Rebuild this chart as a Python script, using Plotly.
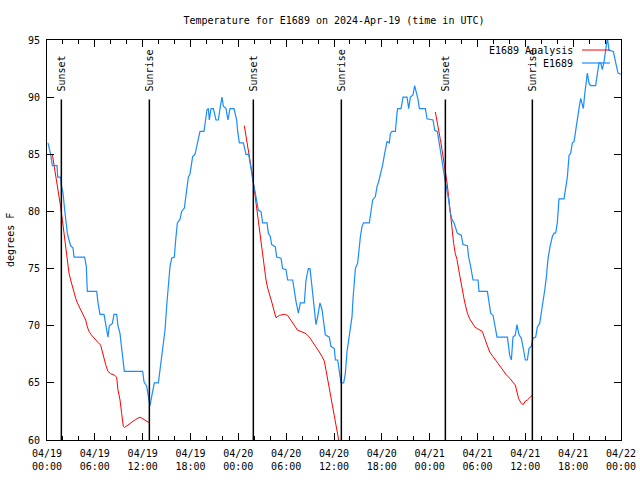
import plotly.graph_objects as go

# ---------------- data ----------------
# hours since 2024-04-19 00:00 UTC
obs_hours = [0.12, 0.46, 0.67, 1.26, 1.34, 1.71, 1.80, 2.01, 2.22, 2.38, 2.55, 2.76, 2.97, 3.26, 3.39,
             4.72, 4.93, 5.06, 6.23, 6.40, 6.65, 7.15, 7.36, 7.65, 7.82, 8.20, 8.40, 8.74, 8.90, 9.16,
             9.32, 9.49, 9.70, 12.00, 12.17, 12.50, 12.71, 12.92, 13.13, 13.34, 13.46, 13.97, 14.17,
             14.38, 14.59, 14.80, 15.01, 15.22, 15.43, 15.64, 15.97, 16.14, 16.35, 16.68, 16.89, 17.23,
             17.44, 17.73, 17.94, 18.27, 18.57, 18.77, 18.98, 19.19, 19.69, 19.90, 20.07, 20.24, 20.36,
             20.57, 20.87, 21.20, 21.49, 21.70, 21.95, 22.12, 22.45, 22.70, 22.95, 23.46, 23.79,
             23.92, 24.13, 24.63, 24.96, 25.30, 25.51, 25.71, 25.88, 26.13, 26.34, 26.51, 26.84, 27.05,
             27.60, 27.76, 28.01, 28.18, 28.64, 28.81, 29.35, 29.56, 29.98, 30.19, 30.82, 31.03, 31.24,
             31.53, 31.78, 32.28, 32.49, 32.78, 32.99, 33.24, 33.45, 33.74, 33.95, 34.24, 34.50, 34.70,
             34.91, 35.41, 35.62, 36.04, 36.17, 36.46, 36.67, 36.88, 37.21, 37.42, 37.63, 37.84, 38.05,
             38.26, 38.38, 38.55, 38.68, 38.97, 39.10, 39.31, 39.52, 39.72, 40.43, 40.68, 40.85, 41.19,
             41.40, 41.60, 41.81, 42.11, 42.31, 42.52, 42.65, 42.94, 43.07, 43.28, 43.70, 43.90, 43.99,
             44.41, 44.66, 45.16, 45.37, 45.58, 45.91, 46.12, 46.33, 46.54, 46.71, 47.46, 47.67, 48.22,
             48.42, 48.63, 48.96, 49.17, 49.38, 49.59, 49.80, 49.97, 50.18, 50.38, 50.55, 50.80, 51.05,
             51.47, 51.97, 52.18, 52.73, 52.89, 53.14, 53.44, 54.07, 54.19, 55.24, 55.45, 55.65, 55.95,
             56.16, 56.45, 57.75, 58.04, 58.25, 58.45, 58.75, 58.95, 59.21, 59.50, 59.75, 60.00, 60.25,
             60.46, 60.75, 60.96, 61.30, 61.51, 61.80, 62.01, 62.22, 62.43, 62.64, 62.84, 63.09, 63.39,
             63.60, 63.80, 64.01, 64.22, 64.85, 65.06, 65.27, 65.48, 65.69, 65.90, 66.11, 66.32, 66.52,
             66.73, 66.94, 67.15, 67.28, 67.45, 67.65, 67.78, 67.99, 68.20, 68.82, 69.03, 69.24, 69.45,
             69.66, 69.87, 70.08, 70.29, 70.50, 71.04, 71.34, 71.63, 72.00]
obs_temps = [86, 85, 84, 84, 83, 83, 82.3, 81.6, 80.1, 78.8, 78.1, 77.5, 77, 76.8, 76,
             76, 75.2, 73, 73, 72, 71, 71, 70, 69, 70, 70.2, 71, 71, 70, 69.3,
             68.3, 67, 66, 66, 65.1, 64.7, 63.8, 63, 63.8, 64.7, 65, 65, 66.1,
             66.9, 68.5, 69.6, 71.7, 73.6, 75.2, 75.9, 76, 77.5, 79, 79.3, 80, 80.3,
             81.6, 83, 83.3, 84.8, 85, 85.7, 86.5, 87, 87, 88, 88.9, 89, 88,
             89, 89, 88, 88, 89, 90, 89.2, 89, 88, 89, 89, 88,
             87, 86, 86, 85, 85, 84, 83, 82.5, 81.6, 80.7, 80.1, 80, 79,
             79, 78.1, 77.8, 77.1, 76.9, 76, 75.9, 75, 74.9, 74, 74, 73, 72.1,
             71.1, 72, 72, 74, 75, 75, 73.4, 72, 70.1, 70.8, 72, 71.4, 70.2,
             69.2, 69, 68.2, 68, 67, 67, 66, 65, 65, 65.8, 67.7, 68.8, 69.9,
             70.8, 72.3, 73.6, 75, 75.5, 76.6, 77.8, 78.7, 79, 79, 80.1, 81, 81.3,
             82.2, 82.6, 83.2, 84.1, 84.9, 85.8, 86.1, 86, 86.8, 87, 87, 88.6, 89,
             89, 90, 90, 89, 90, 90.2, 91, 90.5, 89.8, 89, 89, 88.1, 88,
             88, 87.1, 87, 86.1, 85, 84.2, 83.3, 82.6, 81.9, 81, 80, 79.3, 79,
             78.1, 77.9, 77.1, 77, 76, 75.2, 74, 74, 73, 73, 72.1, 71.1, 70.9,
             70.1, 69, 69, 67.4, 67, 69, 69.2, 70.1, 69.2, 68.9, 68, 67, 67,
             68, 68.2, 68.9, 69, 69.9, 70.2, 71.1, 72, 73.1, 74.3, 75.8, 76.9, 77.8,
             78.1, 78.1, 79, 81.1, 81.1, 82.2, 83, 84.9, 85.1, 86, 86.1, 87.1, 88.3,
             89, 89.9, 89.2, 89, 90.3, 91.8, 92.1, 91.2, 91, 91, 92.1, 93, 93,
             92.4, 93.1, 94.1, 95.2, 94.1, 94, 93, 92.1, 92]

# analysis: three overnight segments (None separates them)
ana_hours = [0.67, 0.88, 1.09, 1.30, 1.51, 1.71, 1.92, 2.13, 2.34, 2.55, 2.76, 2.97, 3.18, 3.39, 3.60,
             3.81, 4.22, 4.56, 4.85, 5.06, 5.27, 5.56, 5.90, 6.31, 6.73, 6.94, 7.15, 7.36, 7.65, 7.99,
             8.40, 8.74, 8.90, 9.16, 9.37, 9.57, 9.74, 10.49, 11.12, 11.67, 12.08, 12.84, None,
             24.75, 24.96, 25.17, 25.38, 25.59, 25.80, 26.01, 26.22, 26.43, 26.63, 26.84, 27.05, 27.26,
             27.47, 27.68, 27.89, 28.22, 28.52, 28.73, 29.14, 29.77, 30.19, 30.61, 31.03, 31.44, 31.86,
             32.49, 32.91, 33.32, 33.74, 34.16, 34.50, 34.79, 35.00, 35.21, 35.41, 35.62, 35.83, 36.04,
             36.30, 36.85, None,
             48.71, 48.92, 49.13, 49.34, 49.55, 49.76, 49.97, 50.18, 50.38, 50.59, 50.80, 51.01, 51.22,
             51.43, 51.64, 51.85, 52.06, 52.27, 52.48, 52.73, 53.02, 53.31, 53.65, 54.07, 54.61, 54.90,
             55.19, 55.53, 55.95, 56.37, 56.78, 57.20, 57.62, 58.04, 58.45, 58.75, 58.95, 59.17, 59.50,
             59.75, 60.00, 60.25, 60.84]
ana_temps = [85, 84.1, 83.3, 82.5, 81.6, 80.4, 79.3, 78.1, 76.9, 75.8, 74.6, 74, 73.4, 72.8, 72.4,
             72, 71.4, 70.9, 70.5, 69.9, 69.5, 69.2, 68.9, 68.6, 68.3, 67.7, 67, 66.6, 66, 65.8,
             65.7, 65.5, 64.4, 63.5, 62.3, 61.2, 61.1, 61.5, 61.8, 62, 61.8, 61.5, None,
             87.5, 86.5, 85.7, 84.8, 83.9, 83, 81.9, 80.7, 79.5, 78.4, 77.2, 76, 74.9,
             74, 73.3, 72.7, 72, 71.2, 70.7, 70.9, 71, 70.9, 70.5, 70.1, 69.6, 69.5,
             69.3, 69, 68.6, 68.2, 67.7, 67.3, 66.9, 66.1, 65.3, 64.5, 63.8, 63.1, 62.2,
             61.1, 59.0, None,
             88.7, 88, 87.1, 86.3, 85.4, 84.5, 83.5, 82.5, 81.3, 79.8, 78.4, 77.2, 76.3,
             75.8, 74.9, 74, 73.3, 72.5, 71.8, 71.1, 70.6, 70.3, 69.9, 69.7, 69.5, 68.9,
             68.3, 67.7, 67.3, 66.9, 66.4, 66, 65.7, 65.4, 65.1, 64.8, 64.2, 63.6, 63.2,
             63.1, 63.4, 63.5, 63.9]

sun_hours = [1.80, 12.84, 25.88, 36.92, 49.97, 60.88]
sun_labels = ["Sunset", "Sunrise", "Sunset", "Sunrise", "Sunset", "Sunrise"]

tick_hours = [0, 6, 12, 18, 24, 30, 36, 42, 48, 54, 60, 66, 72]
tick_labels = ["04/19<br>00:00", "04/19<br>06:00", "04/19<br>12:00", "04/19<br>18:00",
               "04/20<br>00:00", "04/20<br>06:00", "04/20<br>12:00", "04/20<br>18:00",
               "04/21<br>00:00", "04/21<br>06:00", "04/21<br>12:00", "04/21<br>18:00",
               "04/22<br>00:00"]
y_ticks = [60, 65, 70, 75, 80, 85, 90, 95]

series_names = ["E1689 Analysis", "E1689"]
series_colors = ["#ff0000", "#1a8cff"]
series_widths = [1.0, 1.2]

# ---------------- figure ----------------
FONT = "DejaVu Sans Mono"
fig = go.Figure()

fig.add_trace(go.Scatter(x=ana_hours, y=ana_temps, mode="lines", connectgaps=False,
                         line=dict(color=series_colors[0], width=series_widths[0]), showlegend=False))
fig.add_trace(go.Scatter(x=obs_hours, y=obs_temps, mode="lines",
                         line=dict(color=series_colors[1], width=series_widths[1]), showlegend=False))

for t, lab in zip(sun_hours, sun_labels):
    fig.add_shape(type="line", xref="x", yref="y", x0=t, x1=t, y0=89.8, y1=60,
                  line=dict(color="black", width=1.5))
    fig.add_annotation(x=t, y=90, xref="x", yref="y", text=lab, textangle=-90,
                       showarrow=False, xanchor="center", yanchor="bottom", yshift=4,
                       font=dict(family=FONT, size=10, color="black"))

# legend (gnuplot style: text then sample on the right)
leg_y = [0.975, 0.9425]
for name, col, w, yy in zip(series_names, series_colors, series_widths, leg_y):
    fig.add_annotation(x=0.9199, y=yy, xref="paper", yref="paper", text=name,
                       showarrow=False, xanchor="right", yanchor="middle",
                       font=dict(family=FONT, size=10, color="black"))
    fig.add_shape(type="line", xref="paper", yref="paper", x0=0.9321, x1=0.9808,
                  y0=yy, y1=yy, line=dict(color=col, width=w))

# y-axis title
fig.add_annotation(x=-0.0645, y=0.5, xref="paper", yref="paper", text="degrees F",
                   textangle=-90, showarrow=False, xanchor="center", yanchor="middle",
                   font=dict(family=FONT, size=10, color="black"))

fig.update_layout(
    width=640, height=480,
    margin=dict(l=47, r=19, t=40, b=40, pad=0),
    paper_bgcolor="white", plot_bgcolor="white",
    font=dict(family=FONT, size=10, color="black"),
    title=dict(text="Temperature for E1689 on 2024-Apr-19 (time in UTC)",
               x=0.5, xref="paper", xanchor="center", y=1 - 20 / 480, yref="container",
               yanchor="middle", font=dict(family=FONT, size=10, color="black")),
    showlegend=False,
)
fig.update_xaxes(range=[0, 72], tickmode="array", tickvals=tick_hours, ticktext=tick_labels,
                 ticks="inside", ticklen=7, tickwidth=1, tickcolor="black",
                 minor=dict(tickmode="linear", tick0=0, dtick=2, ticks="inside", ticklen=4,
                            tickcolor="black", tickwidth=1, showgrid=False),
                 showline=True, linecolor="black", linewidth=1, mirror="allticks",
                 showgrid=False, zeroline=False, automargin=False, ticklabelstandoff=4,
                 tickfont=dict(family=FONT, size=10, color="black"))
fig.update_yaxes(range=[60, 95], tickmode="array", tickvals=y_ticks,
                 ticks="inside", ticklen=7, tickwidth=1, tickcolor="black",
                 showline=True, linecolor="black", linewidth=1, mirror="allticks",
                 showgrid=False, zeroline=False, automargin=False, ticklabelstandoff=4,
                 tickfont=dict(family=FONT, size=10, color="black"))

fig.write_html("out.html")
